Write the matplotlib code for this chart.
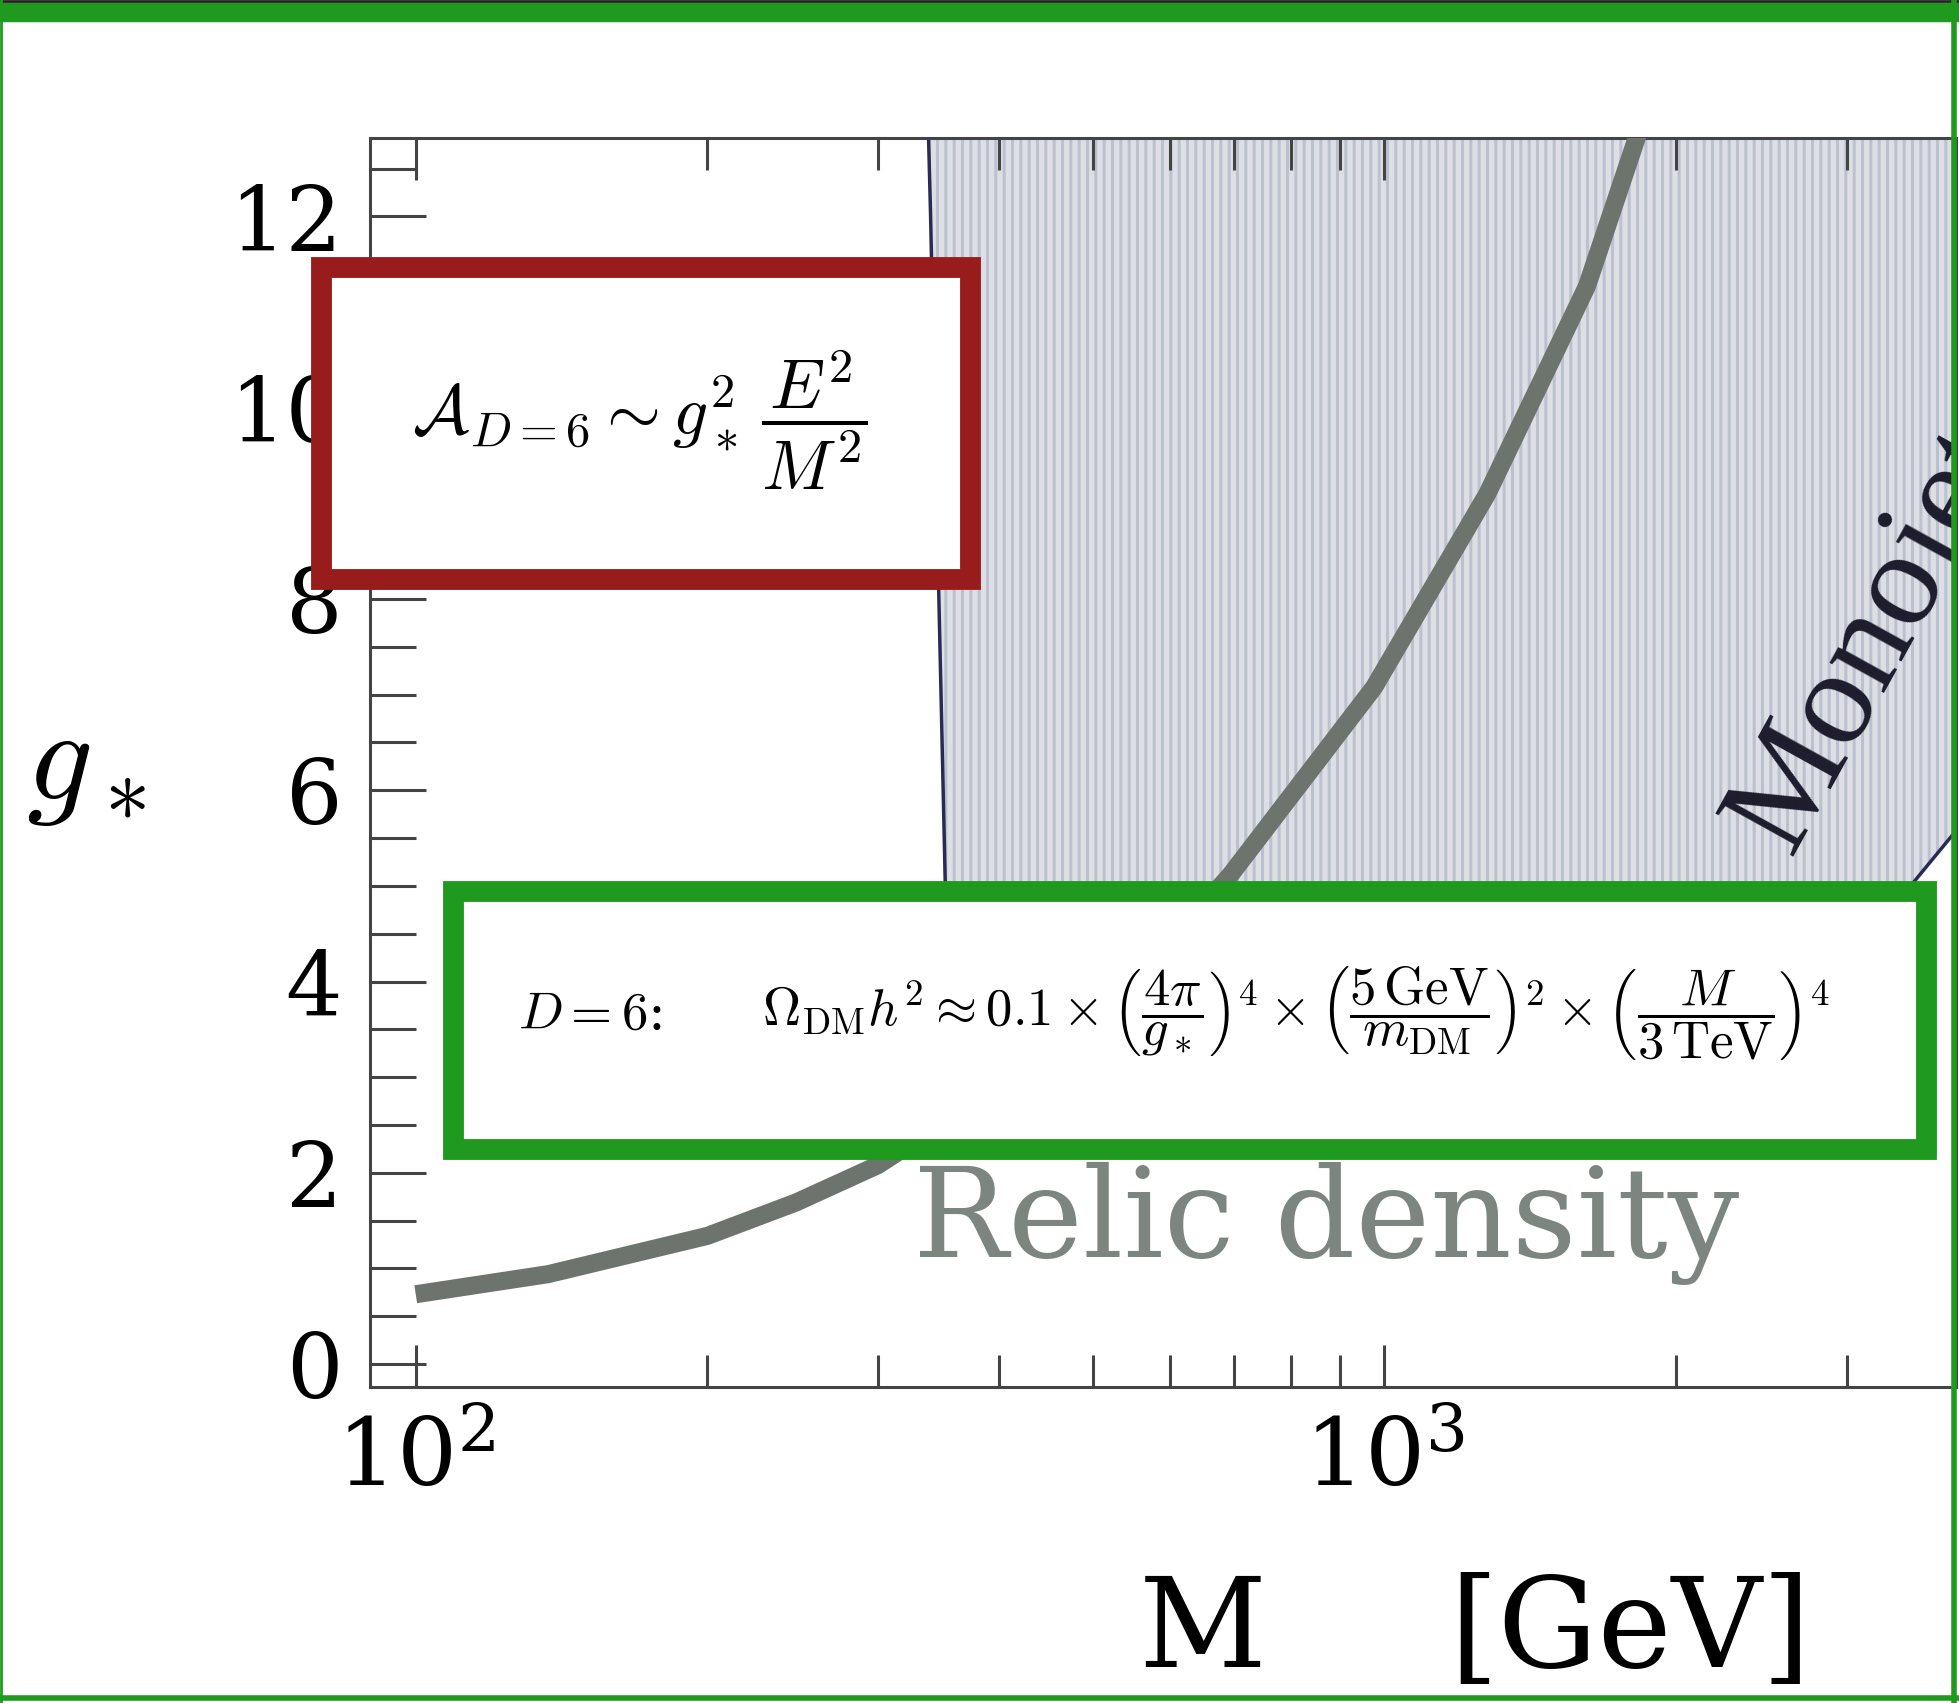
import numpy as np
import matplotlib
matplotlib.use('Agg')
from matplotlib import pyplot as plt
from matplotlib.patches import Rectangle
from matplotlib.lines import Line2D
from matplotlib.ticker import FixedLocator, NullFormatter

# relic density band (M in GeV, g*)
relic_M = [100, 137, 200, 247, 300, 400, 500, 600, 694, 976, 1277, 1618, 1824, 1950]
relic_g = [0.73, 0.94, 1.34, 1.69, 2.08, 2.90, 3.65, 4.40, 5.12, 7.08, 9.10, 11.27, 12.84, 13.6]

# monojet excluded region: left edge then lower edge
mono_left_M = [337, 340, 345, 352, 356]
mono_left_g = [13.5, 12.0, 9.0, 5.05, 3.5]
mono_low_M = [356, 1500, 2600, 3200, 3512, 3842, 4300]
mono_low_g = [3.5, 3.3, 3.9, 4.6, 5.03, 5.51, 6.1]

x_major = [100, 1000]
x_major_labels = [r'$10^{2}$', r'$10^{3}$']
x_minor = [200, 300, 400, 500, 600, 700, 800, 900, 2000, 3000]
y_major = [0, 2, 4, 6, 8, 10, 12]
y_minor = list(np.arange(0, 13, 0.5))

plt.rcParams['mathtext.fontset'] = 'dejavuserif'
plt.rcParams['font.family'] = 'DejaVu Serif'
plt.rcParams['hatch.linewidth'] = 2.2

W, H = 1959, 1703
fig = plt.figure(figsize=(W / 100, H / 100), dpi=100)


def fx(x):
    return x / W


def fy(y):
    return 1 - y / H


ax = fig.add_axes([fx(370), fy(1387), fx(1956) - fx(370), fy(138) - fy(1387)])
ax.set_xscale('log')
ax.set_xlim(89.7, 3890)
ax.set_ylim(-0.24, 12.82)

# monojet region
poly_M = mono_left_M + mono_low_M[1:] + [mono_low_M[-1], mono_left_M[0]]
poly_g = mono_left_g + mono_low_g[1:] + [13.5, 13.5]
ax.fill(poly_M, poly_g, facecolor='#dedfe5', edgecolor='#bcc1cf', hatch='||', lw=0, zorder=1)
ax.plot(mono_left_M + mono_low_M[1:], mono_left_g + mono_low_g[1:], color='#2a2a55', lw=2.5, zorder=2)

# relic density band
ax.plot(relic_M, relic_g, color='#6c746d', lw=13, solid_capstyle='butt', zorder=3)

ax.text(2620, 5.3, 'Monojet', rotation=61, rotation_mode='anchor', ha='left', va='baseline',
        fontsize=98, family='Liberation Serif', color='#1c1c2c', zorder=4, clip_on=True)

for s in ax.spines.values():
    s.set_color('#444444')
    s.set_linewidth(2.2)

ax.xaxis.set_major_locator(FixedLocator(x_major))
ax.set_xticklabels(x_major_labels)
ax.xaxis.set_minor_locator(FixedLocator(x_minor))
ax.xaxis.set_minor_formatter(NullFormatter())
ax.set_yticks(y_major)
ax.yaxis.set_minor_locator(FixedLocator(y_minor))

ax.tick_params(axis='x', which='major', direction='in', top=True, length=30, width=2.2,
               color='#444444', labelsize=68, pad=20)
ax.tick_params(axis='x', which='minor', direction='in', top=True, length=23, width=2.2, color='#444444')
ax.tick_params(axis='y', which='major', direction='in', right=False, length=40, width=2.2,
               color='#444444', labelsize=64, pad=20)
ax.tick_params(axis='y', which='minor', direction='in', right=False, length=33, width=2.2, color='#444444')

ax.text(870, 1.12, 'Relic density', fontsize=91, color='#7d8580', ha='center', va='baseline', zorder=4)

# axis labels
fig.text(fx(86), fy(765), r'$g_*$', fontsize=94, ha='center', va='center', math_fontfamily='cm')
fig.text(fx(1203), fy(1667), 'M', fontsize=90, ha='center', va='baseline')
fig.text(fx(1630), fy(1667), '[GeV]', fontsize=90, ha='center', va='baseline')

# red box
fig.add_artist(Rectangle((fx(321), fy(579)), fx(970) - fx(321), fy(267) - fy(579),
                         transform=fig.transFigure, facecolor='white', edgecolor='#981c1c', lw=15))
fig.text(fx(640), fy(420), r'$\mathcal{A}_{D=6} \sim g_*^2\,\dfrac{E^2}{M^2}$', fontsize=50,
         ha='center', va='center', math_fontfamily='cm')

# green box
fig.add_artist(Rectangle((fx(453), fy(1149)), fx(1926) - fx(453), fy(891) - fy(1149),
                         transform=fig.transFigure, facecolor='white', edgecolor='#1f9a1f', lw=15))
fig.text(fx(518), fy(1014), r'$D=6$:', fontsize=38, ha='left', va='center', math_fontfamily='cm')
fig.text(fx(762), fy(1014),
         r'$\Omega_{\mathrm{DM}}h^2 \approx 0.1\times\left(\dfrac{4\pi}{g_*}\right)^4\times'
         r'\left(\dfrac{5\,\mathrm{GeV}}{m_{\mathrm{DM}}}\right)^2\times\left(\dfrac{M}{3\,\mathrm{TeV}}\right)^4$',
         fontsize=38, ha='left', va='center', math_fontfamily='cm')

# slide frame
fig.add_artist(Line2D([0, 1], [fy(12), fy(12)], transform=fig.transFigure, color='#1f9a1f', lw=14))
fig.add_artist(Line2D([0, 1], [fy(1), fy(1)], transform=fig.transFigure, color='#222222', lw=2))
fig.add_artist(Line2D([fx(1), fx(1)], [0, 1], transform=fig.transFigure, color='#1f9a1f', lw=2))
fig.add_artist(Line2D([fx(1954), fx(1954)], [0, 1], transform=fig.transFigure, color='#1f9a1f', lw=4))
fig.add_artist(Line2D([0, 1], [fy(1698), fy(1698)], transform=fig.transFigure, color='#1f9a1f', lw=4))

fig.savefig('out.png', dpi=100)
